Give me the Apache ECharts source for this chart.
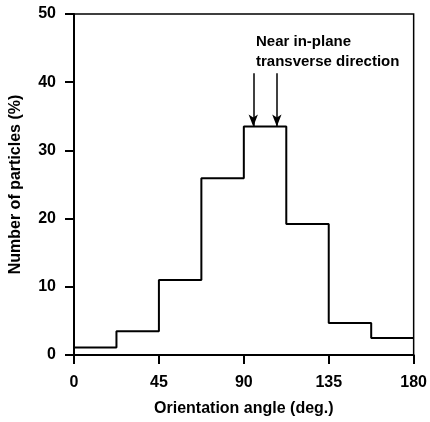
<!DOCTYPE html>
<html>
<head>
<meta charset="utf-8">
<script src="https://cdn.jsdelivr.net/npm/echarts@6/dist/echarts.min.js"></script>
<style>html,body{margin:0;padding:0;background:#fff}#c{width:430px;height:422px}</style>
</head>
<body>
<div id="c"></div>
<script>
var binEdges = [0, 22.5, 45, 67.5, 90, 112.5, 135, 157.5, 180];
var percents = [1.1, 3.5, 11.0, 25.9, 33.5, 19.2, 4.7, 2.5];
var xTicks = [0, 45, 90, 135, 180];
var arrowX = [95, 107.5];
var arrowTop = 41.3;
var annotation = ['Near in-plane', 'transverse direction'];

var stepData = [];
for (var i = 0; i < percents.length; i++) stepData.push([binEdges[i], percents[i]]);
stepData.push([binEdges[binEdges.length - 1], percents[percents.length - 1]]);

var arrowLines = arrowX.map(function (x) {
  return [{coord: [x, arrowTop]}, {coord: [x, percents[4]]}];
});

var font = 'Liberation Sans, Arial, sans-serif';
var chart = echarts.init(document.getElementById('c'));
chart.setOption({
  animation: false,
  grid: {left: 73, right: 13, top: 14, bottom: 67, show: true, borderColor: '#000', borderWidth: 1.5, backgroundColor: 'transparent'},
  xAxis: {
    type: 'value', min: 0, max: 180, interval: 45,
    name: 'Orientation angle (deg.)', nameLocation: 'middle', nameGap: 46,
    nameTextStyle: {color: '#000', fontSize: 16, fontWeight: 'bold', fontFamily: font},
    axisLine: {show: true, lineStyle: {color: '#000', width: 2}},
    axisTick: {show: true, inside: false, length: 9, lineStyle: {color: '#000', width: 2}},
    axisLabel: {color: '#000', fontSize: 16, fontWeight: 'bold', fontFamily: font, margin: 20},
    splitLine: {show: false}
  },
  yAxis: {
    type: 'value', min: 0, max: 50, interval: 10,
    name: 'Number of particles (%)', nameLocation: 'middle', nameGap: 50,
    nameTextStyle: {color: '#000', fontSize: 16, fontWeight: 'bold', fontFamily: font},
    axisLine: {show: true, lineStyle: {color: '#000', width: 2}},
    axisTick: {show: true, inside: false, length: 9, lineStyle: {color: '#000', width: 2}},
    axisLabel: {color: '#000', fontSize: 16, fontWeight: 'bold', fontFamily: font, margin: 18},
    splitLine: {show: false}
  },
  series: [{
    type: 'line',
    step: 'end',
    data: stepData,
    symbol: 'none',
    lineStyle: {color: '#000', width: 2},
    markLine: {
      silent: true,
      symbol: ['none', 'arrow'],
      symbolSize: [7, 12],
      label: {show: false},
      lineStyle: {color: '#000', width: 1.5, type: 'solid'},
      data: arrowLines
    }
  }],
  graphic: [{
    type: 'text', left: 256, top: 32,
    style: {text: annotation.join('\n'), fill: '#000', font: 'bold 15px ' + font, lineHeight: 20}
  }]
});
</script>
</body>
</html>
